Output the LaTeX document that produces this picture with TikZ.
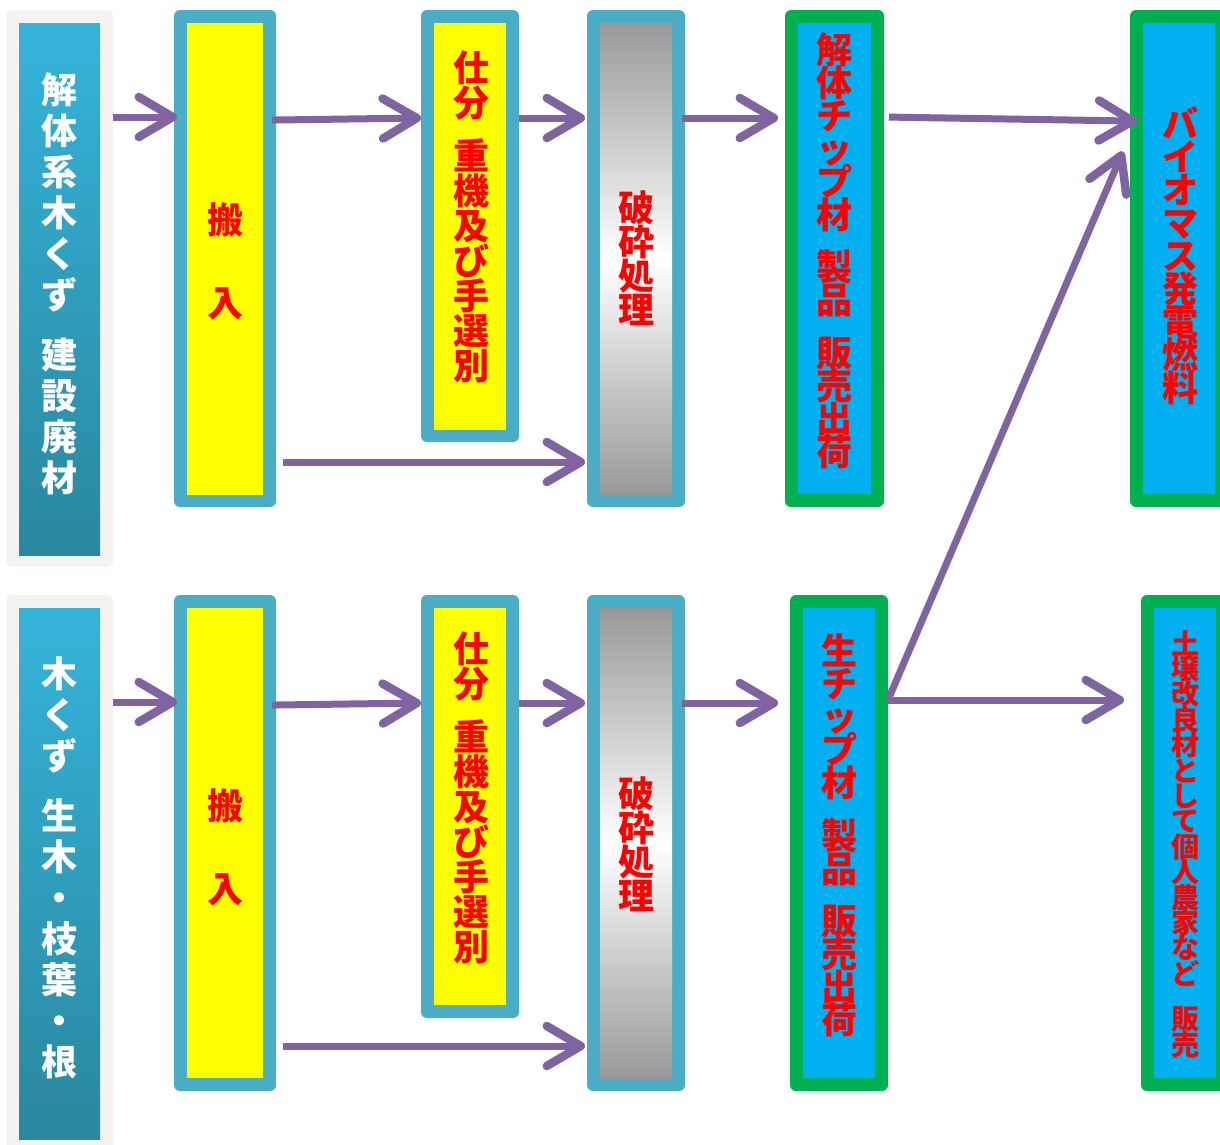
\documentclass[tikz,border=0pt]{standalone}
\usepackage{fontspec}
\newfontfamily\jp{Noto Sans CJK JP}
\usetikzlibrary{arrows.meta}
\definecolor{frameC}{HTML}{F5F3EF}
\definecolor{srcTop}{HTML}{35B4DA}
\definecolor{srcBot}{HTML}{2A879F}
\definecolor{tealB}{HTML}{4BACC6}
\definecolor{yel}{HTML}{FFFF00}
\definecolor{grnB}{HTML}{00B050}
\definecolor{cyanF}{HTML}{00B0F0}
\definecolor{purp}{HTML}{8064A2}
\definecolor{redT}{HTML}{FF0000}
\definecolor{greyS}{HTML}{999999}
\pgfdeclareverticalshading{crush}{100bp}{color(0bp)=(greyS); color(25bp)=(greyS); color(50bp)=(white); color(75bp)=(greyS); color(100bp)=(greyS)}
\begin{document}
\begin{tikzpicture}[x=1pt,y=-1pt,
  outerbox/.style={rectangle, rounded corners=6pt, inner sep=0pt, outer sep=0pt},
  tbox/.style={outerbox, fill=tealB},
  gbox/.style={outerbox, fill=grnB},
  fbox/.style={outerbox, fill=frameC},
  inbox/.style={rectangle, inner sep=0pt, outer sep=0pt},
  arr/.style={draw=purp, line width=7pt, -{Straight Barb[length=34pt,width=40pt,round,line width=1.5pt 1]}},
  vt/.style 2 args={align=center, inner sep=0pt, font={\jp\bfseries\fontsize{#1}{#2}\selectfont\lineskiplimit=-100pt}},
  rtext/.style={text=redT},
  wtext/.style={text=white}]
\useasboundingbox (0,0) rectangle (1220,1144);
\fill[white] (0,0) rectangle (1220,1144);

% ---- sources
\node[fbox, minimum width=107, minimum height=557] (src1) at (59.5,288.5) {};
\node[inbox, minimum width=81, minimum height=532, top color=srcTop, bottom color=srcBot] (src1in) at (59.5,289) {};
\node[vt={36}{41}, wtext] (src1t) at (59.5,284) {解\\体\\系\\木\\く\\ず\\[19pt]建\\設\\廃\\材};

\node[fbox, minimum width=107, minimum height=570] (src2) at (59.5,880) {};
\node[inbox, minimum width=81, minimum height=531, top color=srcTop, bottom color=srcBot] (src2in) at (59.5,873.5) {};
\node[vt={36}{41}, wtext] (src2t) at (59.5,868) {木\\く\\ず\\[19pt]生\\木\\・\\枝\\葉\\・\\根};

% ---- 搬入
\node[tbox, minimum width=102, minimum height=497] (h1) at (225,258.5) {};
\node[inbox, fill=yel, minimum width=76, minimum height=472] (h1in) at (225,259) {};
\node[vt={36}{83}, rtext] (h1t) at (225,261.5) {搬\\入};

\node[tbox, minimum width=102, minimum height=496] (h2) at (225,843) {};
\node[inbox, fill=yel, minimum width=76, minimum height=470] (h2in) at (225,843) {};
\node[vt={36}{83}, rtext] (h2t) at (225,847) {搬\\入};

% ---- 仕分
\node[tbox, minimum width=98, minimum height=432] (s1) at (470,226) {};
\node[inbox, fill=yel, minimum width=72, minimum height=407] (s1in) at (470,226.5) {};
\node[vt={36}{35}, rtext] (s1t) at (471,217) {仕\\分\\[18pt]重\\機\\及\\び\\手\\選\\別};

\node[tbox, minimum width=98, minimum height=423] (s2) at (470,806.5) {};
\node[inbox, fill=yel, minimum width=72, minimum height=397] (s2in) at (470,806.5) {};
\node[vt={36}{35}, rtext] (s2t) at (471,798) {仕\\分\\[18pt]重\\機\\及\\び\\手\\選\\別};

% ---- 破砕処理
\node[tbox, minimum width=98, minimum height=497] (p1) at (636,258.5) {};
\node[inbox, shading=crush, minimum width=72, minimum height=471] (p1in) at (636,258.5) {};
\node[vt={36}{34}, rtext] (p1t) at (636,258) {破\\砕\\処\\理};

\node[tbox, minimum width=98, minimum height=496] (p2) at (636,843) {};
\node[inbox, shading=crush, minimum width=72, minimum height=470] (p2in) at (636,843) {};
\node[vt={36}{34}, rtext] (p2t) at (636,844) {破\\砕\\処\\理};

% ---- チップ材
\node[gbox, minimum width=99, minimum height=497] (k1) at (834.5,258.5) {};
\node[inbox, fill=cyanF, minimum width=73, minimum height=471] (k1in) at (834.5,258.5) {};
\node[vt={36}{33}, rtext] (k1t) at (834,250.5) {解\\体\\チ\\ッ\\プ\\材\\[19.5pt]製\\品\\[19.5pt]販\\売\\出\\荷};

\node[gbox, minimum width=98, minimum height=496] (k2) at (839,843) {};
\node[inbox, fill=cyanF, minimum width=72, minimum height=470] (k2in) at (839,843) {};
\node[vt={36}{33}, rtext] (k2t) at (839,835.5) {生\\チ\\ッ\\プ\\材\\[19.5pt]製\\品\\[19.5pt]販\\売\\出\\荷};

% ---- 出口
\node[gbox, minimum width=98, minimum height=497] (b1) at (1179,258.5) {};
\node[inbox, fill=cyanF, minimum width=72, minimum height=471] (b1in) at (1179,258.5) {};
\node[vt={36}{33}, rtext] (b1t) at (1180,256) {バ\\イ\\オ\\マ\\ス\\発\\電\\燃\\料};

\node[gbox, minimum width=88, minimum height=496] (d1) at (1185,843) {};
\node[inbox, fill=cyanF, minimum width=62, minimum height=470] (d1in) at (1185,843) {};
\node[vt={28}{25.4}, rtext] (d1t) at (1185,844) {土\\壌\\改\\良\\材\\と\\し\\て\\個\\人\\農\\家\\な\\ど\\[20pt]販\\売};

% ---- arrows top row
\draw[arr, shorten >=-3pt] (src1.east |- 0,117) -- (h1.west |- 0,117);
\draw[arr, shorten <=-4pt] (h1.east |- 0,120) -- (s1.west |- 0,118);
\draw[arr, shorten >=2pt] (s1.east |- 0,118) -- (p1.west |- 0,118);
\draw[arr, shorten <=-3pt, shorten >=7pt] (p1.east |- 0,118) -- (k1.west |- 0,118);
\draw[arr, shorten <=5pt, shorten >=-7pt] (k1.east |- 0,117) -- (b1.west |- 0,121);
\draw[arr, shorten <=7pt, shorten >=2pt] (h1.east |- 0,462) -- (p1.west |- 0,462);

% ---- arrows bottom row
\draw[arr, shorten >=-3pt] (src2.east |- 0,702) -- (h2.west |- 0,702);
\draw[arr, shorten <=-4pt] (h2.east |- 0,705) -- (s2.west |- 0,703);
\draw[arr, shorten >=2pt] (s2.east |- 0,703) -- (p2.west |- 0,703);
\draw[arr, shorten <=-3pt, shorten >=12pt] (p2.east |- 0,703) -- (k2.west |- 0,703);
\draw[arr, shorten <=7pt, shorten >=2pt] (h2.east |- 0,1046) -- (p2.west |- 0,1046);
\draw[arr, shorten >=18pt] (k2.east |- 0,700) -- (b1.west |- 0,135);
\draw[arr, shorten >=17pt] (k2.east |- 0,700) -- (d1.west |- 0,700);
\end{tikzpicture}
\end{document}
